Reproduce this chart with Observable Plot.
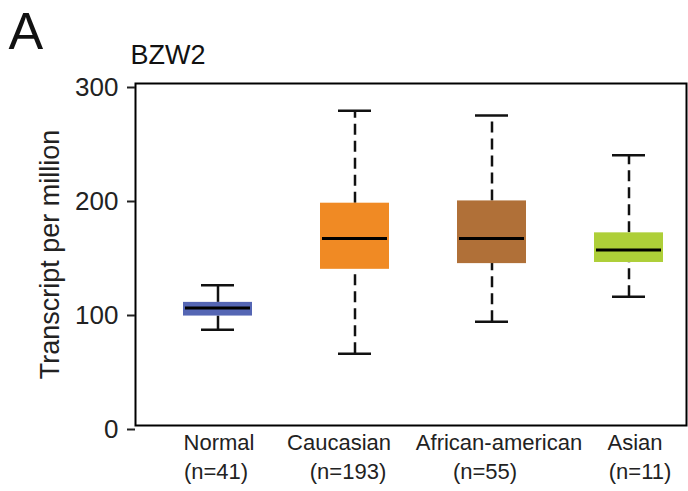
<!DOCTYPE html>
<html>
<head>
<meta charset="utf-8">
<script src="https://cdn.jsdelivr.net/npm/d3@7"></script>
<script src="https://cdn.jsdelivr.net/npm/@observablehq/plot@0.6"></script>
<style>
  html, body { margin: 0; padding: 0; background: #fff; }
  #chart svg { display: block; }
</style>
</head>
<body>
<div id="chart"></div>
<script>
const groups = ["Normal", "Caucasian", "African-american", "Asian"];
const counts = [41, 193, 55, 11];
const whiskerLow = [84, 63, 91, 113];
const q1 = [96, 137, 142, 143];
const median = [103, 164, 164, 154];
const q3 = [108, 195, 197, 169];
const whiskerHigh = [123, 276, 272, 237];
const colors = ["#5566b4", "#f08a24", "#b07038", "#aecf38"];
const yTicks = [0, 100, 200, 300];
const title = "BZW2";
const panel = "A";
const yLabel = "Transcript per million";

const data = groups.map((g, i) => ({
  group: g, n: counts[i], lo: whiskerLow[i], q1: q1[i], med: median[i],
  q3: q3[i], hi: whiskerHigh[i], color: colors[i]
}));
const normal = data.filter(d => d.group === "Normal");
const tumor = data.filter(d => d.group !== "Normal");

// layout: horizontal nudges of the two label lines under each box (px)
const line1Nudge = [1, -16, 7, 6];
const line2Nudge = [-2, -7, -7, 11];

const font = "'Liberation Sans', Arial, Helvetica, sans-serif";

const labelMarks = [];
data.forEach((d, i) => {
  labelMarks.push(Plot.text([d], { x: "group", text: d => d.group, frameAnchor: "bottom", lineAnchor: "middle", dy: 17, dx: line1Nudge[i], fontSize: 22, fill: "#222" }));
  labelMarks.push(Plot.text([d], { x: "group", text: d => `(n=${d.n})`, frameAnchor: "bottom", lineAnchor: "middle", dy: 46, dx: line2Nudge[i], fontSize: 22, fill: "#222" }));
});

const chart = Plot.plot({
  width: 688,
  height: 491,
  marginTop: 83,
  marginBottom: 66,
  marginLeft: 135,
  marginRight: 2,
  style: { fontFamily: font, color: "#222", background: "#fff" },
  x: { type: "band", domain: groups, range: [182.5, 663.5], paddingInner: 0.5, paddingOuter: 0, axis: null },
  y: { domain: [0, 300] },
  color: { type: "identity" },
  marks: [
    // whiskers
    Plot.ruleX(normal, { x: "group", y1: "lo", y2: "q1", stroke: "#111", strokeWidth: 2.5 }),
    Plot.ruleX(normal, { x: "group", y1: "q3", y2: "hi", stroke: "#111", strokeWidth: 2.5 }),
    Plot.ruleX(tumor, { x: "group", y1: "lo", y2: "q1", stroke: "#111", strokeWidth: 2.5, strokeDasharray: "11,6" }),
    Plot.ruleX(tumor, { x: "group", y1: "q3", y2: "hi", stroke: "#111", strokeWidth: 2.5, strokeDasharray: "11,6" }),
    // caps
    Plot.tickY(data, { x: "group", y: "lo", stroke: "#111", strokeWidth: 2.5, inset: 18 }),
    Plot.tickY(data, { x: "group", y: "hi", stroke: "#111", strokeWidth: 2.5, inset: 18 }),
    // boxes
    Plot.barY(data, { x: "group", y1: "q1", y2: "q3", fill: "color" }),
    // medians
    Plot.tickY(data, { x: "group", y: "med", stroke: "#000", strokeWidth: 3, inset: 2 }),
    // frame
    Plot.frame({ stroke: "#000", strokeWidth: 2 }),
    // y axis
    Plot.axisY({ ticks: yTicks, tickSize: 8, tickPadding: 9, fontSize: 26, strokeWidth: 2, label: null, dy: 4 }),
    // category labels
    ...labelMarks,
    // y label
    Plot.text([yLabel], { frameAnchor: "left", lineAnchor: "middle", dx: -85, rotate: -90, fontSize: 27, textAnchor: "middle", fill: "#222" }),
    // title
    Plot.text([title], { frameAnchor: "top-left", lineAnchor: "middle", dx: -5, dy: -28, fontSize: 27, textAnchor: "start", fill: "#111" }),
    // panel letter
    Plot.text([panel], { frameAnchor: "top-left", lineAnchor: "middle", dx: -127, dy: -51, fontSize: 52, textAnchor: "start", fill: "#111" })
  ]
});
document.getElementById("chart").appendChild(chart);
</script>
</body>
</html>
